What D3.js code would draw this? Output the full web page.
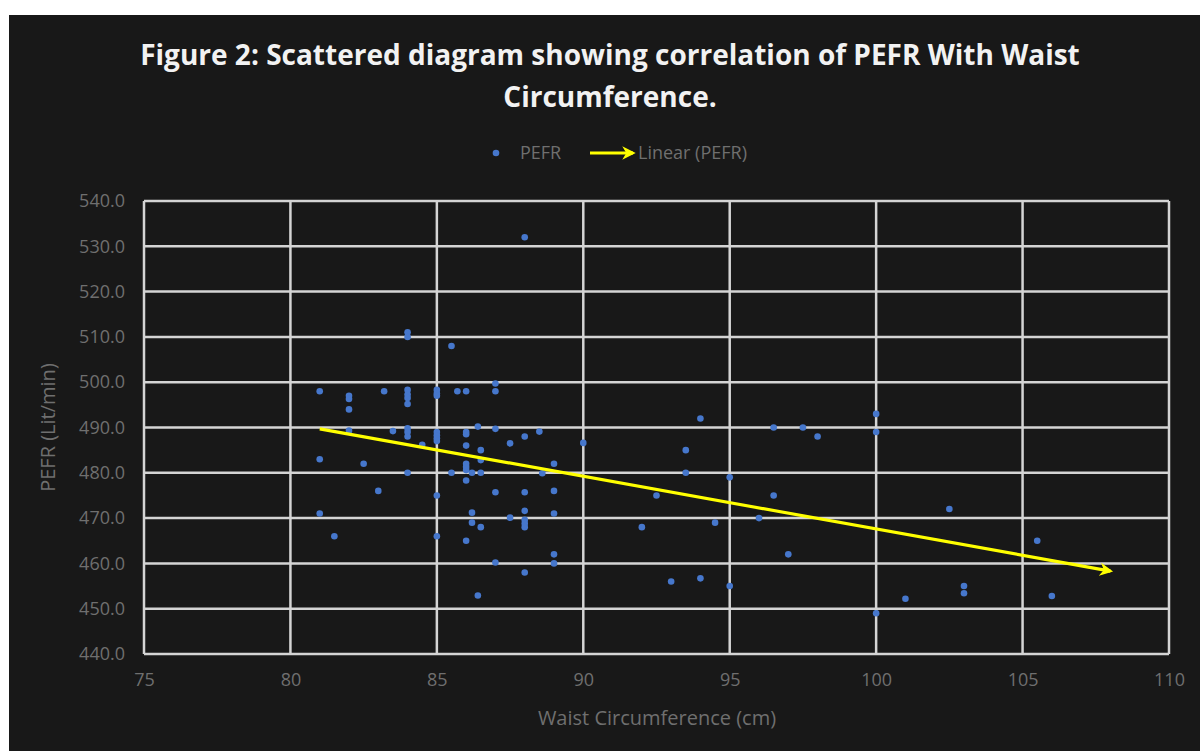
<!DOCTYPE html>
<html>
<head>
<meta charset="utf-8">
<script src="https://cdn.jsdelivr.net/npm/d3@7"></script>
<style>
  html, body { margin: 0; padding: 0; background: #ffffff; }
  svg { display: block; }
</style>
</head>
<body>
<svg id="chart" width="1200" height="751"></svg>
<script>
// ---- Data ----
const waist = [
  81, 81, 81, 81.5,
  82, 82, 82, 82, 82.5, 83, 83.2, 83.5,
  84, 84, 84, 84, 84, 84, 84, 84, 84, 84, 84.5,
  85, 85, 85, 85, 85, 85, 85, 85, 85, 85.5, 85.5, 85.7,
  86, 86, 86, 86, 86, 86, 86, 86, 86,
  86.2, 86.2, 86.2, 86.4, 86.4, 86.5, 86.5, 86.5, 86.5,
  87, 87, 87, 87, 87, 87.5, 87.5,
  88, 88, 88, 88, 88, 88, 88, 88, 88.5, 88.6,
  89, 89, 89, 89, 89, 90,
  92, 92.5, 93, 93.5, 93.5, 94, 94, 94.5, 95, 95, 96, 96.5, 96.5, 97, 97.5, 98,
  100, 100, 100, 101, 102.5, 103, 103, 105.5, 106
];
const pefr = [
  498, 483, 471, 466,
  497, 496.3, 494, 489.3, 482, 476, 498, 489.2,
  511, 510, 498.3, 497.3, 496.5, 495.2, 489.8, 489, 488, 480, 486.2,
  498.3, 497.5, 497, 489, 488.3, 487.6, 487, 475, 466, 508, 480, 498,
  498, 489, 488.5, 486, 482, 481.3, 480.6, 478.3, 465,
  480, 471.2, 469, 490.2, 452.9, 485, 482.8, 480, 468,
  499.7, 498, 489.7, 475.7, 460.2, 486.5, 470.1,
  532, 488, 475.7, 471.6, 469.6, 468.8, 468, 458, 489.1, 479.9,
  482, 476, 471, 462, 460, 486.6,
  468, 475, 456, 485, 480, 492, 456.7, 469, 479, 455, 470, 490, 475, 462, 490, 488,
  493, 489, 449, 452.2, 472, 455, 453.4, 465, 452.8
];
// Linear trendline as shown (slope / intercept), drawn from x=81 to x=108
const trendSlope = -1.163;
const trendIntercept = 583.9;
const trendRange = [81, 108];

const xTicks = [75, 80, 85, 90, 95, 100, 105, 110];
const yTicks = [440, 450, 460, 470, 480, 490, 500, 510, 520, 530, 540];

const titleLines = ["Figure 2: Scattered diagram showing correlation of PEFR With Waist", "Circumference."];
const xTitle = "Waist Circumference (cm)";
const yTitle = "PEFR (Lit/min)";
const legendItems = ["PEFR", "Linear (PEFR)"];

// ---- Layout ----
const svg = d3.select("#chart");
const W = 1200, H = 751;
const plot = { left: 144, right: 1169, top: 201, bottom: 654 };

const x = d3.scaleLinear().domain([75, 110]).range([plot.left, plot.right]);
const y = d3.scaleLinear().domain([440, 540]).range([plot.bottom, plot.top]);

const FONT = "'Open Sans', 'DejaVu Sans', sans-serif";
const LABEL = "#6f6f6f";

// background
svg.append("rect").attr("x", 0).attr("y", 0).attr("width", W).attr("height", H).attr("fill", "#ffffff");
svg.append("rect").attr("x", 9).attr("y", 15).attr("width", W - 9).attr("height", H - 15).attr("fill", "#181818");

// title
const title = svg.append("text")
  .attr("text-anchor", "middle")
  .attr("font-family", FONT)
  .attr("font-weight", 700)
  .attr("font-size", 28)
  .attr("fill", "#f2f2f2");
titleLines.forEach((t, i) => {
  title.append("tspan").attr("x", 610).attr("y", 65 + i * 42).text(t);
});

// gridlines
const grid = svg.append("g");
grid.selectAll("line.h").data(yTicks).join("line")
  .attr("x1", plot.left).attr("x2", plot.right)
  .attr("y1", d => y(d)).attr("y2", d => y(d))
  .attr("stroke", "#d4d4d4").attr("stroke-width", 2.5);
grid.selectAll("line.v").data(xTicks).join("line")
  .attr("y1", plot.top).attr("y2", plot.bottom)
  .attr("x1", d => x(d)).attr("x2", d => x(d))
  .attr("stroke", "#d4d4d4").attr("stroke-width", 2.5);

// axes (labels only)
const xAxis = d3.axisBottom(x).tickValues(xTicks).tickSize(0).tickPadding(19).tickFormat(d3.format("d"));
const gx = svg.append("g").attr("transform", `translate(0,${plot.bottom})`).call(xAxis);
gx.select(".domain").remove();
gx.selectAll("text").attr("font-family", FONT).attr("font-size", 18).attr("fill", LABEL);

const yAxis = d3.axisLeft(y).tickValues(yTicks).tickSize(0).tickPadding(19).tickFormat(d3.format(".1f"));
const gy = svg.append("g").attr("transform", `translate(${plot.left},0)`).call(yAxis);
gy.select(".domain").remove();
gy.selectAll("text").attr("font-family", FONT).attr("font-size", 18).attr("fill", LABEL);

// axis titles
svg.append("text")
  .attr("x", 657).attr("y", 725)
  .attr("text-anchor", "middle")
  .attr("font-family", FONT).attr("font-size", 20).attr("fill", LABEL)
  .text(xTitle);
svg.append("text")
  .attr("transform", `translate(55,${(plot.top + plot.bottom) / 2}) rotate(-90)`)
  .attr("text-anchor", "middle")
  .attr("font-family", FONT).attr("font-size", 20).attr("fill", LABEL)
  .text(yTitle);

// arrow marker
const defs = svg.append("defs");
defs.append("marker")
  .attr("id", "arrow")
  .attr("viewBox", "0 0 10 10")
  .attr("refX", 8).attr("refY", 5)
  .attr("markerWidth", 4.2).attr("markerHeight", 4.2)
  .attr("markerUnits", "strokeWidth")
  .attr("orient", "auto")
  .append("path")
  .attr("d", "M0,0 L10,5 L0,10 L3,5 Z")
  .attr("fill", "#ffff00");

// points
const pts = waist.map((w, i) => ({ w, p: pefr[i] }));
svg.append("g").selectAll("circle").data(pts).join("circle")
  .attr("cx", d => x(d.w)).attr("cy", d => y(d.p))
  .attr("r", 3.3)
  .attr("fill", "#4677cc");

// trendline
const trendData = trendRange.map(v => ({ w: v, p: trendIntercept + trendSlope * v }));
svg.append("path")
  .datum(trendData)
  .attr("d", d3.line().x(d => x(d.w)).y(d => y(d.p)))
  .attr("fill", "none")
  .attr("stroke", "#ffff00")
  .attr("stroke-width", 3.2)
  .attr("marker-end", "url(#arrow)");

// legend
const lg = svg.append("g");
lg.append("circle").attr("cx", 496).attr("cy", 153).attr("r", 3.3).attr("fill", "#4677cc");
lg.append("text").attr("x", 520).attr("y", 159)
  .attr("font-family", FONT).attr("font-size", 18).attr("fill", LABEL).text(legendItems[0]);
lg.append("line").attr("x1", 590).attr("x2", 633).attr("y1", 153).attr("y2", 153)
  .attr("stroke", "#ffff00").attr("stroke-width", 3.2).attr("marker-end", "url(#arrow)");
lg.append("text").attr("x", 638).attr("y", 159)
  .attr("font-family", FONT).attr("font-size", 18).attr("fill", LABEL).text(legendItems[1]);
</script>
</body>
</html>
